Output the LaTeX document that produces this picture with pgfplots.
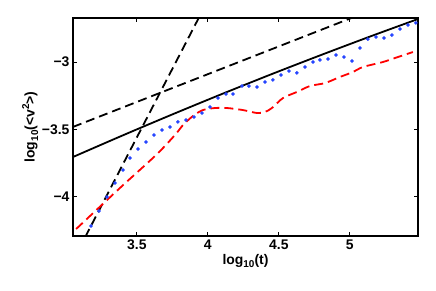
\documentclass[border=0pt]{standalone}
\usepackage{fontspec}
\setmainfont{Liberation Sans}
\usepackage{pgfplots}
\pgfplotsset{compat=1.18}
\definecolor{mblue}{rgb}{0.15,0.27,1}
\newcommand{\sub}[1]{\raisebox{-0.45ex}{\fontsize{10}{10}\selectfont #1}}
\newcommand{\sups}[1]{\raisebox{0.75ex}{\fontsize{10}{10}\selectfont #1}}
\begin{document}
\begin{tikzpicture}
\path[use as bounding box] (-73bp,-55bp) rectangle (363bp,236bp);
\begin{axis}[
  at={(0,0)}, anchor=south west,
  scale only axis, width=345bp, height=218bp,
  xmin=3.05, xmax=5.48, ymin=-4.289, ymax=-2.674,
  xtick={3.5,4,4.5,5}, xticklabels={3.5,4,4.5,5},
  ytick={-4,-3.5,-3}, yticklabels={−4,−3.5,−3},
  tick align=inside, major tick length=4bp,
  axis line style={line width=1.6bp},
  tick style={line width=1bp, black},
  ticklabel style={font=\fontsize{14}{16}\selectfont\bfseries},
  label style={font=\fontsize{14}{16}\selectfont\bfseries},
  xlabel={log\sub{10}(t)},
  ylabel={log\sub{10}(<v\sups{2}>)},
  xlabel style={yshift=2bp},
  ylabel style={yshift=-3bp},
  clip=true,
]
% solid black
\addplot[black, line width=1.8bp, smooth] coordinates {
(3.050,-3.7037) (3.402,-3.5429) (3.754,-3.3864) (4.106,-3.2341) (4.458,-3.0862)
(4.811,-2.9426) (5.163,-2.8032) (5.480,-2.6815)};
% shallow dashed
\addplot[black, line width=1.8bp, dash pattern=on 9bp off 5bp] coordinates {
(3.05,-3.481) (5.48,-2.481)};
% steep dashed
\addplot[black, line width=1.8bp, dash pattern=on 9bp off 5bp] coordinates {
(3.0,-4.573) (4.0,-2.543)};
% red dashed
\addplot[red, line width=1.8bp, dash pattern=on 9bp off 5bp, smooth] coordinates {
(3.000,-4.308) (3.050,-4.259) (3.381,-3.933) (3.635,-3.689) (3.768,-3.541) (3.825,-3.467)
(3.895,-3.400) (3.965,-3.356) (4.050,-3.341) (4.135,-3.341) (4.247,-3.356)
(4.346,-3.378) (4.402,-3.370) (4.451,-3.341) (4.529,-3.267) (4.627,-3.222)
(4.719,-3.178) (4.825,-3.156) (4.930,-3.111) (5.022,-3.074) (5.092,-3.037)
(5.233,-3.000) (5.339,-2.963) (5.444,-2.926)};
% blue dots
\addplot[only marks, mark=*, mark size=1.6bp, mblue, draw=none, mark options={draw=none, fill=mblue}] coordinates {
(3.177,-4.215) (3.233,-4.104) (3.289,-4.000) (3.346,-3.896) (3.402,-3.800)
(3.451,-3.711) (3.508,-3.644) (3.564,-3.593) (3.620,-3.541) (3.677,-3.504)
(3.733,-3.481) (3.789,-3.444) (3.846,-3.430) (3.902,-3.407) (3.958,-3.378)
(4.015,-3.333) (4.071,-3.267) (4.127,-3.237) (4.177,-3.237) (4.240,-3.178)
(4.289,-3.178) (4.346,-3.185) (4.402,-3.148) (4.458,-3.133) (4.515,-3.096)
(4.571,-3.067) (4.627,-3.081) (4.684,-3.037) (4.740,-3.000) (4.789,-2.985)
(4.846,-2.978) (4.902,-2.948) (4.958,-2.963) (5.015,-2.993) (5.071,-2.896)
(5.127,-2.830) (5.184,-2.815) (5.240,-2.822) (5.296,-2.800) (5.353,-2.756)
(5.409,-2.726) (5.465,-2.711)};
\end{axis}
\end{tikzpicture}
\end{document}
